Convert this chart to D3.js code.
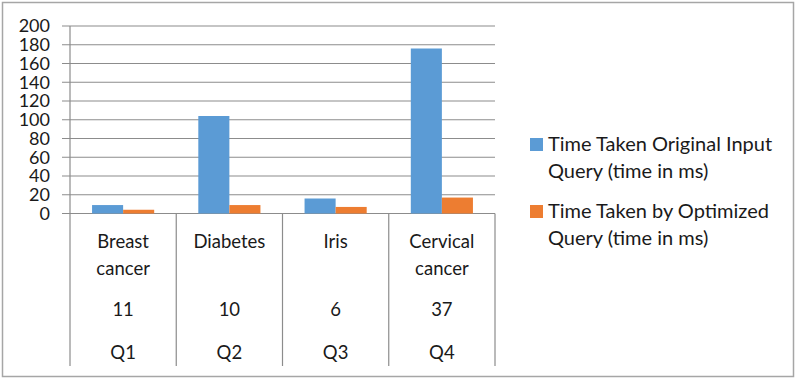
<!DOCTYPE html>
<html>
<head>
<meta charset="utf-8">
<script src="https://cdn.jsdelivr.net/npm/d3@7"></script>
<style>
  body { margin: 0; background: #fff; }
  svg text { font-family: Lato, "Open Sans", sans-serif; fill: #1a1a1a; }
</style>
</head>
<body>
<svg id="chart" width="800" height="380"></svg>
<script>
// data
const datasets = ['Breast\ncancer', 'Diabetes', 'Iris', 'Cervical\ncancer'];
const attrCounts = ['11', '10', '6', '37'];
const queries = ['Q1', 'Q2', 'Q3', 'Q4'];
const originalTime = [9, 104, 16, 176];
const optimizedTime = [4, 9, 7, 17];
const seriesNames = ['Time Taken Original Input\nQuery (time in ms)', 'Time Taken by Optimized\nQuery (time in ms)'];
const colors = ['#5b9bd5', '#ed7d31'];
const yTicks = [0, 20, 40, 60, 80, 100, 120, 140, 160, 180, 200];

const svg = d3.select('#chart');

// outer frame
svg.append('rect')
  .attr('x', 2.5).attr('y', 2.5)
  .attr('width', 791).attr('height', 374)
  .attr('fill', 'none').attr('stroke', '#a6a6a6').attr('stroke-width', 1.5);

const margin = { top: 26, left: 70, right: 305, bottom: 14 };
const plotBottom = 213.5;
const tableBottom = 366;

const x0 = d3.scaleBand().domain(queries).range([margin.left, 800 - margin.right]).padding(0);
const x1 = d3.scaleBand().domain([0, 1]).range([0, x0.bandwidth()]).paddingInner(0).paddingOuter(0.71);
const y = d3.scaleLinear().domain([0, 200]).range([plotBottom, margin.top]);

const g = svg.append('g');

// gridlines
g.selectAll('.grid')
  .data(yTicks)
  .join('line')
  .attr('x1', margin.left - 8)
  .attr('x2', x0.range()[1])
  .attr('y1', (d) => y(d)).attr('y2', (d) => y(d))
  .attr('stroke', '#8c8c8c').attr('stroke-width', 1.2);

// y labels
g.selectAll('.ylab')
  .data(yTicks)
  .join('text')
  .attr('x', 50)
  .attr('y', (d) => y(d))
  .attr('dy', '0.36em')
  .attr('text-anchor', 'end')
  .attr('font-size', '18px')
  .text((d) => d);

// bars
const series = [originalTime, optimizedTime];
series.forEach((vals, si) => {
  g.selectAll('.bar' + si)
    .data(vals)
    .join('rect')
    .attr('x', (d, i) => x0(queries[i]) + x1(si))
    .attr('width', x1.bandwidth())
    .attr('y', (d) => y(d))
    .attr('height', (d) => y(0) - y(d))
    .attr('fill', colors[si]);
});

// category table lines
const bounds = queries.map((q) => x0(q)).concat([x0.range()[1]]);
g.selectAll('.sep')
  .data(bounds)
  .join('line')
  .attr('x1', (d) => d).attr('x2', (d) => d)
  .attr('y1', (d, i) => (i === 0 ? margin.top : plotBottom))
  .attr('y2', tableBottom)
  .attr('stroke', '#8c8c8c').attr('stroke-width', 1.2);

// category labels
const labelRows = [
  { vals: datasets, y: 248 },
  { vals: attrCounts, y: 316 },
  { vals: queries, y: 359 },
];
labelRows.forEach((row) => {
  row.vals.forEach((v, i) => {
    const cx = x0(queries[i]) + x0.bandwidth() / 2;
    const t = g.append('text')
      .attr('x', cx)
      .attr('y', row.y)
      .attr('text-anchor', 'middle')
      .attr('font-size', '18.5px');
    v.split('\n').forEach((line, li) => {
      t.append('tspan')
        .attr('x', cx)
        .attr('dy', li === 0 ? 0 : 27)
        .text(line);
    });
  });
});

// legend
const legend = svg.append('g').attr('transform', 'translate(530,138)');
seriesNames.forEach((name, i) => {
  const lg = legend.append('g').attr('transform', `translate(0,${i * 67})`);
  lg.append('rect').attr('width', 13).attr('height', 13).attr('fill', colors[i]);
  const t = lg.append('text').attr('x', 18).attr('y', 13).attr('font-size', '20px');
  name.split('\n').forEach((line, li) => {
    t.append('tspan').attr('x', 18).attr('dy', li === 0 ? 0 : 27).text(line);
  });
});
</script>
</body>
</html>
